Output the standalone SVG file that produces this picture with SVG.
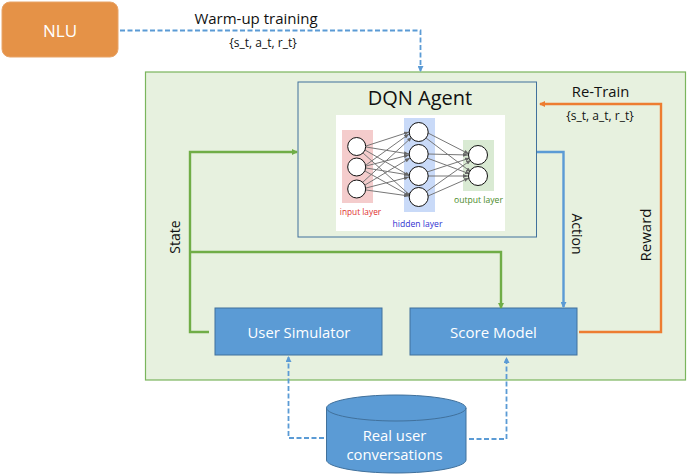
<svg xmlns="http://www.w3.org/2000/svg" width="689" height="475" viewBox="0 0 689 475">
<style>
text{font-family:"Open Sans","Noto Sans","Liberation Sans",sans-serif;fill:#111}
.w{fill:#fff;text-anchor:middle}
.c{text-anchor:middle}
.box{fill:#5b9bd5;stroke:#41719c;stroke-width:1}
.l{fill:none;stroke-width:2.4}
.g{stroke:#70ad47}.b{stroke:#5b9bd5}.o{stroke:#ed7d31}
.d{fill:none;stroke:#5b9bd5;stroke-width:1.800;stroke-dasharray:5 2.500}
.n{fill:#fff;stroke:#111;stroke-width:1}
.e{stroke:#777;stroke-width:1;marker-end:url(#ng)}
</style>
<defs>
<marker id="ag" markerWidth="6" markerHeight="6" refX="5" refY="3" orient="auto" markerUnits="userSpaceOnUse"><path d="M0 0L6 3L0 6z" fill="#70ad47"/></marker>
<marker id="ab" markerWidth="6" markerHeight="6" refX="5" refY="3" orient="auto" markerUnits="userSpaceOnUse"><path d="M0 0L6 3L0 6z" fill="#5b9bd5"/></marker>
<marker id="ao" markerWidth="6" markerHeight="6" refX="5" refY="3" orient="auto" markerUnits="userSpaceOnUse"><path d="M0 0L6 3L0 6z" fill="#ed7d31"/></marker>
<marker id="ng" markerWidth="5" markerHeight="4" refX="5" refY="2" orient="auto" markerUnits="userSpaceOnUse"><path d="M0 0L5 2L0 4z" fill="#666"/></marker>
</defs>
<rect x="145.500" y="72" width="540" height="308" fill="#e7f1df" stroke="#7ab55c" stroke-width="1.200"/>
<g id="nlu"><rect x="2" y="2" width="116" height="55" rx="8" fill="#e59247" stroke="#e8a468"/><text class="w" x="60" y="37" font-size="17">NLU</text></g>
<g id="agent">
<rect x="298" y="82" width="238.500" height="155" fill="#e7f1df" stroke="#41719c" stroke-width="1"/>
<text class="c" x="420" y="105" font-size="20">DQN Agent</text>
<rect x="336" y="115" width="169" height="116" fill="#fff"/>
<rect x="342" y="130" width="31" height="73" fill="#f4cccc"/>
<rect x="404" y="118" width="31" height="94" fill="#c9daf8"/>
<rect x="463" y="140" width="31" height="51" fill="#d9ead3"/>
<g>
<path class="e" d="M366 146L409 132"/><path class="e" d="M366 147L409 154"/><path class="e" d="M365 150L410 176"/><path class="e" d="M363 153L412 197"/>
<path class="e" d="M366 165L409 134"/><path class="e" d="M366 166L409 155"/><path class="e" d="M366 168L409 175"/><path class="e" d="M365 171L410 196"/>
<path class="e" d="M363 182L412 137"/><path class="e" d="M365 185L410 158"/><path class="e" d="M366 188L409 177"/><path class="e" d="M366 190L409 196"/>
<path class="e" d="M428 133L469 154"/><path class="e" d="M426 138L471 172"/>
<path class="e" d="M428 154L468 155"/><path class="e" d="M427 158L470 174"/>
<path class="e" d="M427 172L470 158"/><path class="e" d="M428 176L468 176"/>
<path class="e" d="M426 192L471 160"/><path class="e" d="M428 196L469 178"/>
</g>
<circle class="n" cx="356.700" cy="146.500" r="9"/><circle class="n" cx="356.700" cy="167" r="9"/><circle class="n" cx="356.700" cy="189" r="9"/>
<circle class="n" cx="418.700" cy="132" r="9.500"/><circle class="n" cx="418.700" cy="154" r="9.500"/><circle class="n" cx="418.700" cy="176" r="9.500"/><circle class="n" cx="418.700" cy="197" r="9.500"/>
<circle class="n" cx="478" cy="155" r="9.500"/><circle class="n" cx="478" cy="176" r="9.500"/>
<text class="c" x="360.500" y="215" font-size="8.300" style="fill:#e03030">input layer</text>
<text class="c" x="417.500" y="227" font-size="8.600" style="fill:#3030d0">hidden layer</text>
<text class="c" x="478.500" y="203" font-size="8.600" style="fill:#4a8a2a">output layer</text>
</g>
<g id="user-simulator"><rect class="box" x="215" y="308" width="167" height="47"/><text class="w" x="299" y="338" font-size="14.800">User Simulator</text></g>
<g id="score-model"><rect class="box" x="410" y="308" width="167" height="47"/><text class="w" x="493.500" y="338" font-size="15">Score Model</text></g>
<g id="real-user"><path class="box" d="M326.500 408V460C326.500 467 358 473 396 473S466 467 466 460V408C466 401 434 395 396 395S326.500 401 326.500 408C326.500 415 358 421 396 421S466 415 466 408"/><text class="w" x="394.500" y="441" font-size="14.800">Real user</text><text class="w" x="394.500" y="460" font-size="14.800">conversations</text></g>
<g id="connectors">
<path class="d" marker-end="url(#ab)" d="M120 30.500H420.500V71"/>
<path class="d" marker-end="url(#ab)" d="M324 438H288.500V357"/>
<path class="d" marker-end="url(#ab)" d="M469 439H506.500V358"/>
<path class="l g" marker-end="url(#ag)" d="M209 332H190V152H297"/>
<path class="l g" marker-end="url(#ag)" d="M190 252H501V308"/>
<path class="l b" marker-end="url(#ab)" d="M537 152H563.500V307"/>
<path class="l o" marker-end="url(#ao)" d="M579 332H661V104H540"/>
</g>
<text class="c" x="256" y="24" font-size="15">Warm-up training</text>
<text class="c" x="263" y="47" font-size="12">{s_t, a_t, r_t}</text>
<text class="c" x="600.500" y="97" font-size="14.800">Re-Train</text>
<text class="c" x="600" y="120" font-size="12">{s_t, a_t, r_t}</text>
<text class="c" transform="translate(180 237) rotate(-90)" font-size="14">State</text>
<text class="c" transform="translate(572 234) rotate(90)" font-size="14">Action</text>
<text class="c" transform="translate(651 235) rotate(-90)" font-size="15">Reward</text>
</svg>
